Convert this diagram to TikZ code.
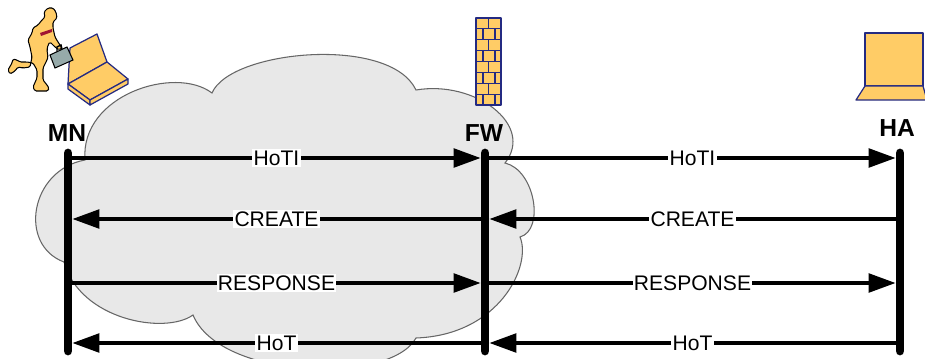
\documentclass[tikz,border=0pt]{standalone}
\usepackage{fontspec}
\setmainfont{Liberation Sans}
\usetikzlibrary{arrows.meta}

\definecolor{gold}{RGB}{255,204,102}
\definecolor{navy}{RGB}{36,42,130}
\definecolor{cloudgray}{RGB}{232,232,232}
\definecolor{tiered}{RGB}{160,20,50}
\definecolor{casegray}{RGB}{150,170,170}

\tikzset{
  lifeline/.style={line width=5pt, line cap=round},
  msg/.style={line width=2.4pt, -{Triangle[length=15.5pt,width=10.5pt]}, shorten >=2.4pt},
  msglabel/.style={fill=white, inner sep=0.7pt, font=\fontsize{12}{13}\selectfont},
  host/.style={font=\fontsize{14}{15}\selectfont\bfseries},
  device/.style={fill=gold, draw=navy, line width=0.7pt, line join=round},
}

\begin{document}
\begin{tikzpicture}[x=0.02cm, y=0.02cm]
  \useasboundingbox (0,0) rectangle (925,-358);

  % the network cloud
  \coordinate (ca) at (85,-160);
  \coordinate (cb) at (212,-93);
  \coordinate (cc) at (416,-90);
  \coordinate (cd) at (505,-163);
  \coordinate (ce) at (520,-237);
  \coordinate (cf) at (416,-338);
  \coordinate (cg) at (193,-315);
  \coordinate (ch) at (64,-262);
  \filldraw[fill=cloudgray, draw=black!60, line width=0.6pt]
    (ca) .. controls (80,-95) and (175,-65) .. (cb)
         .. controls (230,-50) and (390,-35) .. (cc)
         .. controls (475,-80) and (535,-125) .. (cd)
         .. controls (535,-170) and (545,-230) .. (ce)
         .. controls (532,-265) and (500,-335) .. (cf)
         .. controls (390,-385) and (220,-380) .. (cg)
         .. controls (165,-335) and (80,-320) .. (ch)
         .. controls (18,-245) and (30,-170) .. (ca) -- cycle;

  % mobile node: running man with laptop
  \draw[device] (70,-48) -- (97,-34) -- (107,-62) -- (68,-84) -- cycle;
  \draw[device] (68,-84) -- (107,-62) -- (128,-79) -- (90,-100) -- cycle;
  \draw[device] (68,-84) -- (90,-100) -- (90,-105) -- (68,-89) -- cycle;
  \draw[device] (90,-100) -- (128,-79) -- (128,-84) -- (90,-105) -- cycle;
  \filldraw[fill=gold, draw=black, line width=0.6pt, rounded corners=0.8pt]
    (44,-12) -- (48,-8) -- (53,-8) -- (56,-12) -- (57,-18) -- (53,-22)
    -- (53,-28) -- (55,-37) -- (58,-42) -- (62,-48) -- (59,-50) -- (55,-47)
    -- (50,-42) -- (48,-45) -- (47,-50) -- (48,-57) -- (47,-60) -- (43,-68)
    -- (43,-80) -- (47,-85) -- (49,-88) -- (48,-91) -- (35,-91) -- (33,-87)
    -- (37,-78) -- (37,-70) -- (33,-63) -- (27,-62) -- (20,-62) -- (17,-60)
    -- (13,-59) -- (12,-63) -- (8,-70) -- (10,-74) -- (15,-71) -- (18,-67)
    -- (23,-68) -- (30,-67) -- (32,-57) -- (30,-47) -- (28,-40) -- (32,-33)
    -- (33,-28) -- (38,-25) -- (42,-20) -- (45,-17) -- cycle;
  \fill[tiered] (40,-33) -- (52,-29) -- (52,-32) -- (41,-36) -- cycle;
  \draw[black, line width=0.8pt] (57,-51) -- (57,-47) -- (61,-45) -- (62,-49);
  \filldraw[fill=casegray, draw=black, line width=0.6pt]
    (50,-55) -- (67,-47) -- (73,-60) -- (55,-68) -- cycle;

  % firewall
  \filldraw[device] (476,-18) rectangle (501,-105);
  \foreach \r in {1,...,7}
    \draw[navy, line width=0.7pt] (476,-18-\r*10.875) -- (501,-18-\r*10.875);
  \foreach \r in {0,2,4,6}
    \draw[navy, line width=0.7pt] (488.5,-18-\r*10.875) -- ++(0,-10.875);
  \foreach \r in {1,3,5,7} {
    \draw[navy, line width=0.7pt] (483,-18-\r*10.875) -- ++(0,-10.875);
    \draw[navy, line width=0.7pt] (495,-18-\r*10.875) -- ++(0,-10.875);
  }

  % home agent laptop
  \draw[device] (865,-33) rectangle (923,-86);
  \draw[device] (865,-86) -- (923,-86) -- (927,-100) -- (856,-100) -- cycle;

  % hosts and lifelines
  \node[host] (mn) at (67,-133) {MN};
  \node[host] (fw) at (484,-133) {FW};
  \node[host] (ha) at (897,-128) {HA};

  \coordinate (mntop) at (68,-153);
  \coordinate (mnbot) at (68,-351);
  \coordinate (fwtop) at (485,-153);
  \coordinate (fwbot) at (485,-351);
  \coordinate (hatop) at (900,-153);
  \coordinate (habot) at (900,-351);
  \draw[lifeline] (mntop) -- (mnbot);
  \draw[lifeline] (fwtop) -- (fwbot);
  \draw[lifeline] (hatop) -- (habot);

  % message rows
  \coordinate (mn1) at (68,-158);  \coordinate (fw1) at (485,-158);  \coordinate (ha1) at (900,-158);
  \coordinate (mn2) at (68,-219);  \coordinate (fw2) at (485,-219);  \coordinate (ha2) at (900,-219);
  \coordinate (mn3) at (68,-283);  \coordinate (fw3) at (485,-283);  \coordinate (ha3) at (900,-283);
  \coordinate (mn4) at (68,-343);  \coordinate (fw4) at (485,-343);  \coordinate (ha4) at (900,-343);

  \draw[msg] (mn1) -- (fw1) node[midway, msglabel] {HoTI};
  \draw[msg] (fw1) -- (ha1) node[midway, msglabel] {HoTI};
  \draw[msg] (fw2) -- (mn2) node[midway, msglabel] {CREATE};
  \draw[msg] (ha2) -- (fw2) node[midway, msglabel] {CREATE};
  \draw[msg] (mn3) -- (fw3) node[midway, msglabel] {RESPONSE};
  \draw[msg] (fw3) -- (ha3) node[midway, msglabel] {RESPONSE};
  \draw[msg] (fw4) -- (mn4) node[midway, msglabel] {HoT};
  \draw[msg] (ha4) -- (fw4) node[midway, msglabel] {HoT};
\end{tikzpicture}
\end{document}
